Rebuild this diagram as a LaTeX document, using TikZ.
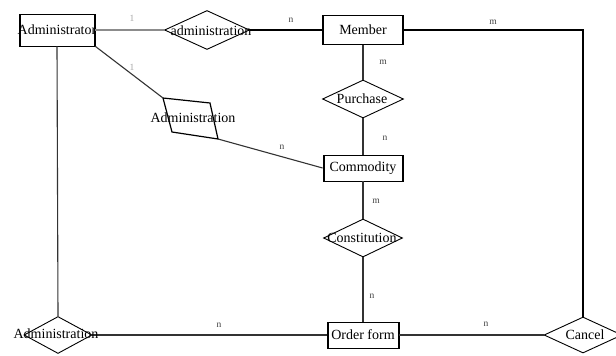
\documentclass[tikz,border=0pt]{standalone}
\usepackage{fontspec}
\setmainfont{Liberation Serif}
\usetikzlibrary{shapes.geometric}
\begin{document}
\begin{tikzpicture}[x=1pt,y=-1pt,
  txt/.style={font=\fontsize{14}{16}\selectfont, inner sep=0pt},
  entity/.style={draw, line width=0.8pt, inner sep=0pt, fill=white,
    path picture={\draw[line width=3pt]
      (path picture bounding box.north west) -- (path picture bounding box.south west)
      (path picture bounding box.north east) -- (path picture bounding box.south east);}},
  rel/.style={diamond, draw, line width=0.9pt, inner sep=0pt, fill=white},
  card/.style={font=\fontsize{9.5}{10}\selectfont, text=black!75, inner sep=0pt},
  faint/.style={card, text=black!35},
  link/.style={line width=1.1pt, draw=black!80},
  boldlink/.style={line width=1.6pt, draw=black}]
\clip (0,0) rectangle (616,356);

% entities
\node[entity, minimum width=76, minimum height=32,
      label={[txt]center:Administrator}] (admin) at (57,30) {};
\node[entity, minimum width=81, minimum height=29,
      label={[txt]center:Member}] (member) at (363,30) {};
\node[entity, minimum width=80, minimum height=26,
      label={[txt]center:Commodity}] (commodity) at (363,168) {};
\node[entity, minimum width=72, minimum height=26,
      label={[txt]center:Order form}] (order) at (363,335) {};

% relationships
\node[rel, minimum width=85, minimum height=39] (admrel) at (207,30) {};
\node[rel, minimum width=81, minimum height=38] (purchase) at (363,99) {};
\node[rel, minimum width=79, minimum height=38] (constit) at (363,238) {};
\node[rel, minimum width=68, minimum height=37] (admlow) at (58,335) {};
\node[rel, minimum width=78, minimum height=36] (cancel) at (583,335) {};

% tilted relationship between Administrator and Commodity
\coordinate (q1) at (163,98);
\coordinate (q2) at (210,103);
\coordinate (q3) at (218,139);
\coordinate (q4) at (172,132);
\draw[line width=1.2pt] (q1) -- (q2) -- (q3) -- (q4) -- cycle;

% connectors
\draw[link, draw=black!45] (admin.east) -- (admrel.west);
\draw[boldlink] (admrel.east) -- (member.west);
\draw[boldlink] (member.east) -| (cancel.north);
\draw[link] (member.south) -- (purchase.north);
\draw[link] (purchase.south) -- (commodity.north);
\draw[link] (commodity.south) -- (constit.north);
\draw[link] (constit.south) -- (order.north);
\draw[link] (admin.south) -- (admlow.north);
\draw[link, line width=1.3pt] (admlow.east) -- (order.west);
\draw[link, line width=1.3pt] (order.east) -- (cancel.west);
\draw[link] (admin.south east) -- (q1);
\draw[link] (q3) -- (commodity.west);

% relationship names
\node[txt] (tadmrel) at (211,31) {administration};
\node[txt] (tpurchase) at (362,99) {Purchase};
\node[txt] (tconstit) at (362,238) {Constitution};
\node[txt] (tadmlow) at (56,334) {Administration};
\node[txt] (tcancel) at (585,335) {Cancel};
\node[txt] (tquad) at (193,118) {Administration};

% cardinalities
\node[faint] (c1) at (132,18) {1};
\node[card] (c2) at (291,20) {n};
\node[card] (c3) at (493,22) {m};
\node[card] (c4) at (383,62) {m};
\node[card] (c5) at (385,138) {n};
\node[faint] (c6) at (132,67) {1};
\node[card] (c7) at (282,147) {n};
\node[card] (c8) at (376,201) {m};
\node[card] (c9) at (372,296) {n};
\node[card] (c10) at (219,325) {n};
\node[card] (c11) at (486,324) {n};
\end{tikzpicture}
\end{document}
